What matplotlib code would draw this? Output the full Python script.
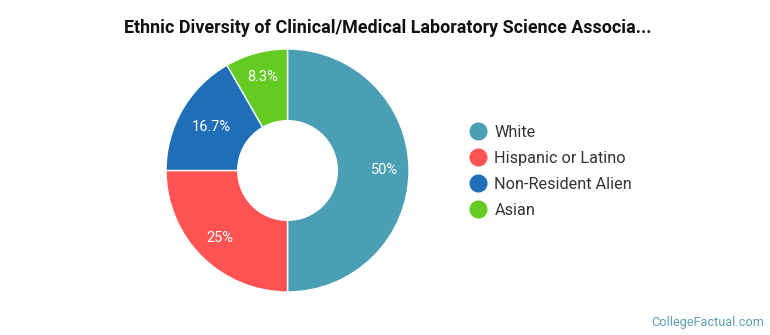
import numpy as np
import matplotlib.pyplot as plt
from matplotlib.lines import Line2D

plt.rcParams['font.family'] = ['Roboto', 'DejaVu Sans']

labels = ['White', 'Hispanic or Latino', 'Non-Resident Alien', 'Asian']
shares = [50, 25, 16.7, 8.3]
pct_text = ['50%', '25%', '16.7%', '8.3%']
colors = ['#4A9FB5', '#FF5353', '#1F6FB8', '#64CB22']

fig = plt.figure(figsize=(7.7, 3.35), dpi=100)

# donut
ax = fig.add_axes([0.2156, 0.1284, 0.3156, 0.7254])
wedges, _ = ax.pie(shares, colors=colors, startangle=90, counterclock=False,
                   radius=1.0, wedgeprops=dict(width=0.59, edgecolor='white', linewidth=1))
# label distance from centre (the wide label sits a bit further in)
lab_r = [0.8, 0.79, 0.72, 0.8]
for w, t, r in zip(wedges, pct_text, lab_r):
    ang = np.deg2rad((w.theta1 + w.theta2) / 2)
    ax.text(r * np.cos(ang), r * np.sin(ang), t, ha='center', va='center',
            color='white', fontsize=10.5)
ax.set_xlim(-1, 1)
ax.set_ylim(-1, 1)
ax.set_aspect('equal')
ax.axis('off')

fig.text(0.504, 0.915, 'Ethnic Diversity of Clinical/Medical Laboratory Science Associa...',
         ha='center', va='center', fontsize=12.9, fontweight='bold', color='#111111')

handles = [Line2D([], [], marker='o', linestyle='', markersize=12,
                  markerfacecolor=c, markeredgecolor=c) for c in colors]
fig.legend(handles, labels, loc='center left', bbox_to_anchor=(0.591, 0.488),
           frameon=False, fontsize=11.7, labelcolor='#333333',
           handletextpad=0.52, labelspacing=0.68, handlelength=1.0)

fig.text(0.992, 0.036, 'CollegeFactual.com', ha='right', va='center',
         fontsize=9.2, color='#5A9FB0')

plt.savefig('out.png')
